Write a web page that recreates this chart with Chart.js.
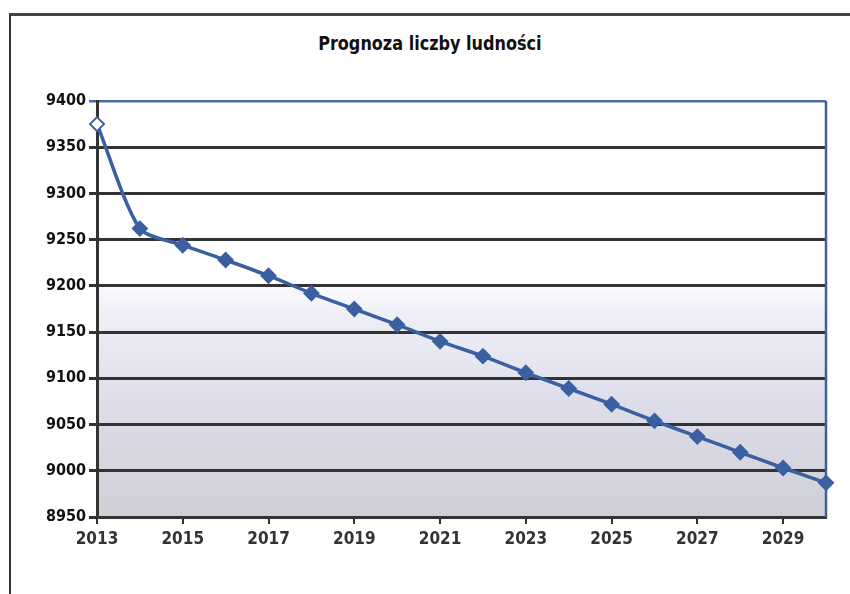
<!DOCTYPE html>
<html>
<head>
<meta charset="utf-8">
<script src="https://cdn.jsdelivr.net/npm/chart.js@4.4.1/dist/chart.umd.min.js"></script>
<style>
  html, body { margin: 0; padding: 0; background: #fff; }
  #wrap { position: relative; width: 850px; height: 594px; overflow: hidden; }
  #frame { position: absolute; left: 9px; top: 13px; width: 850px; height: 600px;
           border-left: 2px solid #333; border-top: 3px solid #444; }
  #title { position: absolute; left: 0; top: 32px; width: 860px; text-align: center;
           font: bold 19px 'DejaVu Sans Condensed', 'Liberation Sans', sans-serif;
           color: #111; }
  #title span { display: inline-block; transform: scaleX(0.94); }
  canvas { position: absolute; left: 0; top: 0; }
</style>
</head>
<body>
<div id="wrap">
  <div id="frame"></div>
  <div id="title"><span>Prognoza liczby ludności</span></div>
  <canvas id="chart" width="850" height="594"></canvas>
</div>
<script>
// lata prognozy
const years = ['2013', '2014', '2015', '2016', '2017', '2018', '2019', '2020', '2021',
               '2022', '2023', '2024', '2025', '2026', '2027', '2028', '2029', '2030'];
// liczba ludności
const population = [9375, 9262, 9244, 9228, 9211, 9192, 9175, 9158, 9140,
                    9124, 9106, 9089, 9072, 9054, 9037, 9020, 9003, 8987];
const yMin = 8950;
const yMax = 9400;
const yStep = 50;

const lineBlue = '#3a60a2';
const gridDark = '#333333';
const fontFamily = "'DejaVu Sans Condensed', 'Liberation Sans', sans-serif";

// tło obszaru wykresu + obramowanie z prawej
const plotBackground = {
  id: 'plotBackground',
  beforeDraw(chart) {
    const { ctx, chartArea: a } = chart;
    const g = ctx.createLinearGradient(0, a.top, 0, a.bottom);
    g.addColorStop(0, '#ffffff');
    g.addColorStop(0.43, '#ffffff');
    g.addColorStop(0.5, '#f0f0f8');
    g.addColorStop(0.72, '#dedeeb');
    g.addColorStop(1, '#cfcfd7');
    ctx.save();
    ctx.fillStyle = g;
    ctx.fillRect(a.left, a.top, a.right - a.left, a.bottom - a.top);
    ctx.restore();
  },
  afterDatasetsDraw(chart) {
    const { ctx, chartArea: a } = chart;
    ctx.save();
    ctx.strokeStyle = '#41609a';
    ctx.lineWidth = 2.5;
    ctx.beginPath();
    ctx.moveTo(a.right, a.top);
    ctx.lineTo(a.right, a.bottom);
    ctx.stroke();
    ctx.restore();
  }
};

new Chart(document.getElementById('chart'), {
  type: 'line',
  data: {
    labels: years,
    datasets: [{
      data: population,
      borderColor: lineBlue,
      borderWidth: 3.5,
      tension: 0.25,
      pointStyle: 'rectRot',
      pointRadius: 7,
      pointBorderWidth: 2,
      pointBackgroundColor: population.map((v, i) => i === 0 ? '#ffffff' : lineBlue),
      pointBorderColor: lineBlue,
      clip: false
    }]
  },
  options: {
    responsive: false,
    animation: false,
    devicePixelRatio: 1,
    layout: { padding: { left: 0, right: 24, top: 101, bottom: 37 } },
    plugins: {
      legend: { display: false },
      tooltip: { enabled: false },
      title: { display: false }
    },
    scales: {
      x: {
        offset: false,
        afterFit(scale) { scale.height = 40; },
        grid: {
          drawOnChartArea: false,
          drawTicks: true,
          tickLength: 7,
          color: (c) => (c.index % 2 === 0 ? gridDark : 'rgba(0,0,0,0)'),
          lineWidth: 2
        },
        border: { color: gridDark, width: 3 },
        ticks: {
          autoSkip: false,
          maxRotation: 0,
          padding: 5,
          color: '#333',
          font: { family: fontFamily, size: 17, weight: 'bold' },
          callback: (v, i) => (i % 2 === 0 ? years[i] : '')
        }
      },
      y: {
        min: yMin,
        max: yMax,
        afterFit(scale) { scale.width = 97; },
        grid: {
          color: (c) => (c.tick && c.tick.value === yMax ? '#4a6aa8' : gridDark),
          lineWidth: (c) => (c.tick && c.tick.value === yMax ? 2.5 : 3),
          tickLength: 8
        },
        border: { color: gridDark, width: 3 },
        ticks: {
          stepSize: yStep,
          padding: 3,
          color: '#111',
          font: { family: fontFamily, size: 16, weight: 'bold' },
          callback: (v) => String(v)
        }
      }
    }
  },
  plugins: [plotBackground]
});
</script>
</body>
</html>
